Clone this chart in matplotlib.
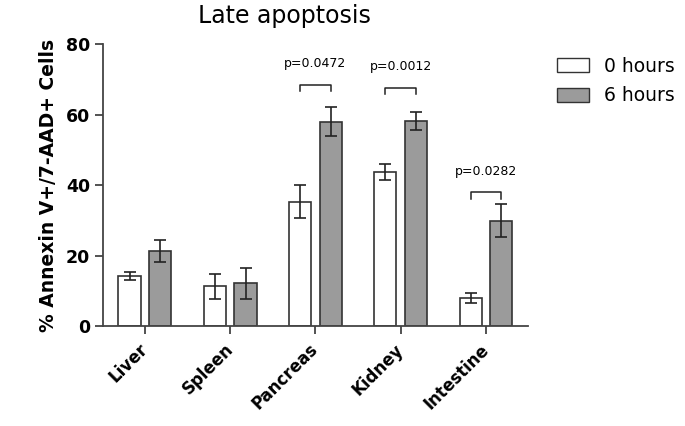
import matplotlib
matplotlib.use("Agg")
import matplotlib.pyplot as plt
import numpy as np
from matplotlib.patches import Patch

categories = ["Liver", "Spleen", "Pancreas", "Kidney", "Intestine"]
hours0 = [14.2, 11.3, 35.3, 43.6, 7.9]
hours0_err = [1.1, 3.5, 4.7, 2.3, 1.4]
hours6 = [21.3, 12.1, 58.0, 58.2, 29.9]
hours6_err = [3.0, 4.3, 4.2, 2.6, 4.7]
yticks = [0, 20, 40, 60, 80]

sig_idx = [2, 3, 4]
sig_labels = ["p=0.0472", "p=0.0012", "p=0.0282"]
sig_heights = [68.4, 67.6, 37.9]

plt.rcParams['font.family'] = ['DejaVu Sans']

fig = plt.figure(figsize=(6.85, 4.26), dpi=100)
ax = fig.add_axes([0.150, 0.2347, 0.621, 0.662])

x = np.arange(len(categories))
w = 0.26
off = 0.18
edge = '#333333'
ax.bar(x - off, hours0, w, color='white', edgecolor=edge, linewidth=1.2, zorder=2)
ax.bar(x + off, hours6, w, color='#9b9b9b', edgecolor=edge, linewidth=1.2, zorder=2)
ax.errorbar(x - off, hours0, yerr=hours0_err, fmt='none', ecolor='#222222',
            elinewidth=1.2, capsize=4, capthick=1.2, zorder=3)
ax.errorbar(x + off, hours6, yerr=hours6_err, fmt='none', ecolor='#222222',
            elinewidth=1.2, capsize=4, capthick=1.2, zorder=3)

for i, lab, h in zip(sig_idx, sig_labels, sig_heights):
    tail = 1.8
    ax.plot([i - off, i - off, i + off, i + off], [h - tail, h, h, h - tail],
            color='#222222', lw=1.1, clip_on=False)
    ax.text(i, h + 4.2, lab, ha='center', va='bottom', fontsize=9)

ax.set_xlim(-0.494, 4.494)
ax.set_ylim(0, 80)
ax.set_yticks(yticks)
ax.set_yticklabels([str(v) for v in yticks], fontsize=12.5, fontweight='bold')
ax.set_xticks(x)
ax.set_xticklabels(categories, rotation=45, ha='right', va='center', rotation_mode='anchor',
                   fontsize=12, fontweight='bold')
for s in ['top', 'right']:
    ax.spines[s].set_visible(False)
for s in ['left', 'bottom']:
    ax.spines[s].set_color('#444444')
    ax.spines[s].set_linewidth(1.3)
ax.tick_params(axis='both', direction='out', length=6, width=1.3, color='#444444', pad=3)
ax.tick_params(axis='x', pad=9)
ax.set_ylabel('% Annexin V+/7-AAD+ Cells', fontsize=13.5, fontweight='bold', labelpad=6)

fig.text(284 / 685, 1 - 23 / 426, 'Late apoptosis', ha='center', va='baseline', fontsize=17)

handles = [Patch(facecolor='white', edgecolor=edge, linewidth=1.0),
           Patch(facecolor='#9b9b9b', edgecolor=edge, linewidth=1.0)]
fig.legend(handles, ['0 hours', '6 hours'], loc='upper left',
           bbox_to_anchor=(540 / 685, 1 - 40 / 426), frameon=False, fontsize=13.5,
           handlelength=1.7, handleheight=0.75, handletextpad=0.8, labelspacing=0.55)

fig.savefig('out.png', dpi=100)
